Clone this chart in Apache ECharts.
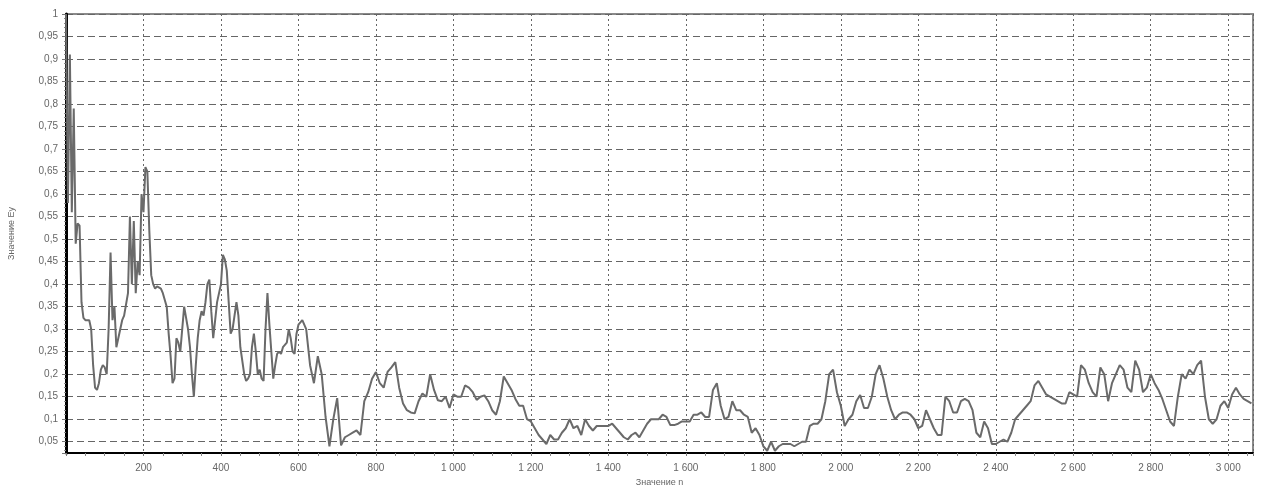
<!DOCTYPE html>
<html>
<head>
<meta charset="utf-8">
<script src="https://cdn.jsdelivr.net/npm/echarts@6/dist/echarts.min.js"></script>
<style>
  html, body { margin: 0; padding: 0; background: #fff; }
  #chart { width: 1265px; height: 486px; }
</style>
</head>
<body>
<div id="chart"></div>
<script>
// n = 0..595, every 5
const headStart = 0
const headStep = 5
const headEy = [
  1.0, 0.58, 0.91, 0.56, 0.79, 0.49, 0.535, 0.53, 0.36, 0.325,
  0.32, 0.32, 0.32, 0.3, 0.22, 0.17, 0.165, 0.18, 0.21, 0.22,
  0.215, 0.2, 0.3, 0.47, 0.32, 0.35, 0.26, 0.28, 0.3, 0.32,
  0.33, 0.33, 0.38, 0.55, 0.4, 0.54, 0.38, 0.45, 0.42, 0.6,
  0.56, 0.66, 0.65, 0.52, 0.42, 0.4, 0.39, 0.395, 0.395, 0.39,
  0.38, 0.365, 0.35, 0.29, 0.24, 0.18, 0.19, 0.28, 0.27, 0.25,
  0.3, 0.35, 0.35, 0.3, 0.26, 0.2, 0.15, 0.22, 0.28, 0.32,
  0.34, 0.33, 0.36, 0.4, 0.41, 0.34, 0.28, 0.28, 0.36, 0.38,
  0.4, 0.465, 0.455, 0.43, 0.36, 0.29, 0.3, 0.33, 0.36, 0.33,
  0.26, 0.23, 0.2, 0.185, 0.19, 0.2, 0.26, 0.29, 0.25, 0.2,
  0.21, 0.19, 0.185, 0.3, 0.38, 0.31, 0.25, 0.19, 0.22, 0.245,
  0.25, 0.245, 0.26, 0.26, 0.27, 0.3, 0.28, 0.25, 0.245, 0.29
]
// n = 600..3060, every 10
const tailStart = 600
const tailStep = 10
const tailEy = [
  0.31, 0.32, 0.3, 0.22, 0.18, 0.24, 0.2, 0.105, 0.04, 0.1,
  0.147, 0.042, 0.06, 0.065, 0.07, 0.075, 0.065, 0.14, 0.16, 0.19,
  0.205, 0.18, 0.17, 0.205, 0.215, 0.227, 0.17, 0.135, 0.12, 0.115,
  0.113, 0.14, 0.157, 0.15, 0.2, 0.165, 0.142, 0.14, 0.15, 0.125,
  0.155, 0.15, 0.15, 0.175, 0.17, 0.16, 0.143, 0.15, 0.153, 0.14,
  0.12, 0.11, 0.14, 0.195, 0.18, 0.165, 0.145, 0.13, 0.13, 0.1,
  0.095, 0.08, 0.065, 0.055, 0.045, 0.065, 0.055, 0.055, 0.07, 0.08,
  0.1, 0.08, 0.085, 0.065, 0.1, 0.085, 0.075, 0.085, 0.085, 0.085,
  0.085, 0.09, 0.08, 0.07, 0.06, 0.055, 0.065, 0.07, 0.06, 0.075,
  0.09, 0.1, 0.1, 0.1, 0.11, 0.105, 0.087, 0.087, 0.09, 0.095,
  0.095, 0.095, 0.11, 0.11, 0.115, 0.105, 0.105, 0.165, 0.18, 0.13,
  0.1, 0.105, 0.14, 0.12, 0.12, 0.11, 0.105, 0.07, 0.08, 0.065,
  0.04, 0.03, 0.05, 0.03, 0.04, 0.045, 0.045, 0.045, 0.04, 0.045,
  0.05, 0.05, 0.085, 0.09, 0.09, 0.1, 0.14, 0.2, 0.21, 0.16,
  0.13, 0.085, 0.1, 0.11, 0.14, 0.154, 0.125, 0.125, 0.15, 0.2,
  0.22, 0.19, 0.15, 0.12, 0.1, 0.11, 0.115, 0.115, 0.11, 0.1,
  0.08, 0.085, 0.12, 0.1, 0.08, 0.065, 0.065, 0.15, 0.14, 0.115,
  0.115, 0.14, 0.145, 0.14, 0.12, 0.07, 0.06, 0.095, 0.08, 0.045,
  0.045, 0.05, 0.055, 0.05, 0.07, 0.1, 0.11, 0.12, 0.13, 0.14,
  0.175, 0.185, 0.17, 0.155, 0.15, 0.145, 0.14, 0.135, 0.135, 0.16,
  0.155, 0.15, 0.22, 0.21, 0.18, 0.16, 0.15, 0.215, 0.2, 0.14,
  0.18, 0.2, 0.22, 0.21, 0.17, 0.16, 0.23, 0.21, 0.16, 0.17,
  0.2, 0.18, 0.165, 0.145, 0.12, 0.095, 0.085, 0.15, 0.2, 0.19,
  0.21, 0.2, 0.22, 0.23, 0.15, 0.1, 0.09, 0.1, 0.13, 0.14,
  0.125, 0.155, 0.17, 0.155, 0.145, 0.14, 0.135
]

const xName = 'Значение n'
const yName = 'Значение Ey'

const points = []
headEy.forEach((v, i) => points.push([headStart + i * headStep, v]))
tailEy.forEach((v, i) => points.push([tailStart + i * tailStep, v]))

const fmtX = v => {
  if (v >= 1000) return Math.floor(v / 1000) + ' ' + String(v % 1000).padStart(3, '0')
  return String(v)
}
const fmtY = v => String(+v.toFixed(3)).replace('.', ',')

const chart = echarts.init(document.getElementById('chart'))
chart.setOption({
  animation: false,
  textStyle: { fontFamily: 'Liberation Sans, Arial, sans-serif' },
  grid: {
    left: 66, right: 12, top: 14, bottom: 33,
    outerBoundsMode: 'none',
    show: true, borderColor: '#8a8a8a', borderWidth: 2
  },
  xAxis: {
    type: 'value',
    min: 0,
    max: 3064,
    interval: 200,
    name: xName,
    nameLocation: 'middle',
    nameGap: 22,
    nameTextStyle: { fontSize: 9, color: '#666' },
    axisLine: { lineStyle: { color: '#000', width: 2 } },
    axisTick: { length: 3, lineStyle: { color: '#777' } },
    minorTick: { show: true, splitNumber: 4, length: 3, lineStyle: { color: '#888' } },
    axisLabel: {
      formatter: fmtX, fontSize: 10, color: '#666', margin: 10,
      showMinLabel: false, showMaxLabel: false
    },
    splitLine: { show: true, lineStyle: { color: '#666', type: [2, 3], width: 1 } }
  },
  yAxis: {
    type: 'value',
    min: 0.025,
    max: 1,
    splitNumber: 19,
    name: yName,
    nameLocation: 'middle',
    nameGap: 50,
    nameTextStyle: { fontSize: 9, color: '#666' },
    axisLine: { lineStyle: { color: '#000', width: 3 } },
    axisTick: { length: 4, lineStyle: { color: '#777' } },
    minorTick: { show: true, splitNumber: 5, length: 2, lineStyle: { color: '#888' } },
    axisLabel: {
      formatter: fmtY, fontSize: 10, color: '#666', margin: 8,
      showMinLabel: false
    },
    splitLine: { show: true, lineStyle: { color: '#666', type: [7, 4], width: 1 } }
  },
  series: [{
    type: 'line',
    data: points,
    showSymbol: false,
    lineStyle: { color: '#6a6a6a', width: 2 },
    z: 3
  }]
})
</script>
</body>
</html>
